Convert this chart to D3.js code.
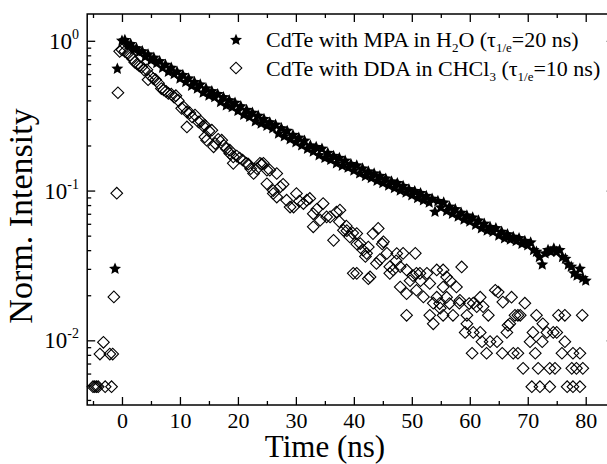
<!DOCTYPE html>
<html>
<head>
<meta charset="utf-8">
<script src="https://cdn.jsdelivr.net/npm/d3@7"></script>
<style>
  body { margin: 0; background: #fff; }
  svg { display: block; font-family: "Liberation Serif", "Times New Roman", serif; }
</style>
</head>
<body>
<div id="chart"></div>
<script>
// CdTe with MPA in H2O  [time ns, normalized intensity]
const mpaPoints = [
  [-1.2,0.030],[-0.8,0.65],
  [0,1.00],[0.5,1.01],[1,0.94],[1.5,0.95],[2,0.88],[2.5,0.89],[3,0.84],[3.5,0.85],[4,0.78],[4.5,0.81],
  [5,0.74],[5.5,0.77],[6,0.71],[6.5,0.73],[7,0.66],[7.5,0.69],[8,0.62],[8.5,0.66],[9,0.60],[9.5,0.62],
  [10,0.56],[10.5,0.59],[11,0.53],[11.5,0.56],[12,0.50],[12.5,0.53],[13,0.48],[13.5,0.51],[14,0.45],[14.5,0.48],
  [15,0.43],[15.5,0.46],[16,0.42],[16.5,0.44],[17,0.39],[17.5,0.42],[18,0.37],[18.5,0.40],[19,0.36],[19.5,0.385],
  [20,0.34],[20.5,0.365],[21,0.32],[21.5,0.345],[22,0.31],[22.5,0.33],[23,0.29],[23.5,0.315],[24,0.28],[24.5,0.30],
  [25,0.27],[25.5,0.285],[26,0.26],[26.5,0.275],[27,0.24],[27.5,0.26],[28,0.23],[28.5,0.25],[29,0.22],[29.5,0.235],
  [30,0.21],[30.5,0.225],[31,0.20],[31.5,0.215],[32,0.19],[32.5,0.20],[33,0.182],[33.5,0.195],[34,0.172],[34.5,0.19],
  [35,0.165],[35.5,0.178],[36,0.16],[36.5,0.17],[37,0.152],[37.5,0.165],[38,0.146],[38.5,0.158],[39,0.142],[39.5,0.15],
  [40,0.136],[40.5,0.147],[41,0.13],[41.5,0.14],[42,0.125],[42.5,0.134],[43,0.121],[43.5,0.13],[44,0.116],[44.5,0.125],
  [45,0.112],[45.5,0.12],[46,0.108],[46.5,0.115],[47,0.104],[47.5,0.112],[48,0.100],[48.5,0.107],[49,0.097],[49.5,0.102],
  [50,0.093],[50.5,0.099],[51,0.089],[51.5,0.096],[52,0.086],[52.5,0.092],[53,0.083],[53.5,0.088],[54,0.072],[54.5,0.085],
  [55,0.077],[55.5,0.083],[56,0.073],[56.5,0.078],[57,0.070],[57.5,0.075],[58,0.067],[58.5,0.071],[59,0.064],[59.5,0.068],
  [60,0.062],[60.5,0.066],[61,0.059],[61.5,0.063],[62,0.056],[62.5,0.060],[63,0.054],[63.5,0.057],[64,0.053],[64.5,0.056],
  [65,0.050],[65.5,0.053],[66,0.048],[66.5,0.051],[67,0.047],[67.5,0.049],[68,0.046],[68.5,0.048],[69,0.044],[69.5,0.046],
  [70,0.043],[70.5,0.045],[71,0.040],[71.5,0.039],[72,0.036],[72.5,0.032],[73,0.038],[73.5,0.040],[74,0.039],[74.5,0.041],
  [75,0.039],[75.5,0.040],[76,0.036],[76.5,0.035],[77,0.032],[77.5,0.031],[78,0.028],[78.5,0.027],[79,0.030],[79.5,0.026],
  [80,0.025]
];

// CdTe with DDA in CHCl3  [time ns, normalized intensity]
const ddaPoints = [
  [-5.0,0.0049],[-4.7,0.0049],[-4.4,0.0049],[-4.1,0.0049],[-3.8,0.0081],[-3.2,0.0097],[-2.9,0.0049],[-2.1,0.0081],
  [-1.8,0.0049],[-1.6,0.0081],[-1.4,0.0195],[-0.9,0.096],[-0.7,0.45],[-0.4,0.85],
  [0,0.87],[0.5,0.85],[1.0,0.82],[1.4,0.80],[1.8,0.76],[2.2,0.72],[2.6,0.70],[3.0,0.68],[3.4,0.67],[3.8,0.64],
  [4.3,0.64],[4.5,0.55],[5.0,0.58],[5.4,0.56],[5.8,0.55],[6.3,0.52],[6.8,0.48],[7.2,0.47],[7.6,0.46],[8.0,0.445],
  [8.5,0.44],[9.0,0.42],[9.3,0.43],[9.7,0.40],[10.3,0.354],[10.7,0.36],[11.2,0.335],[11.2,0.266],[11.7,0.33],[12.1,0.31],
  [12.6,0.319],[13.2,0.287],[13.6,0.29],[14.0,0.27],[14.3,0.273],[14.3,0.228],[14.6,0.217],[15.0,0.25],[15.5,0.253],[15.8,0.196],
  [16.1,0.206],[16.6,0.22],[17.2,0.217],[17.6,0.20],[18.0,0.19],[18.6,0.186],[18.6,0.177],[19.2,0.168],[19.2,0.152],[19.8,0.17],
  [20.3,0.165],[20.8,0.16],[21.5,0.152],[21.8,0.15],[22.2,0.14],[22.7,0.13],[23.3,0.14],[23.8,0.152],[24.1,0.15],[24.4,0.152],
  [25.0,0.137],[25.0,0.111],[25.5,0.137],[26.1,0.10],[26.1,0.0956],[26.7,0.0905],[26.7,0.13],[27.3,0.106],[27.8,0.11],[28.4,0.0862],
  [29.0,0.0776],[29.6,0.0776],[30.1,0.0956],[30.6,0.085],[31.3,0.0819],[31.9,0.0862],[32.4,0.0886],[33.0,0.070],[33.0,0.0573],[33.6,0.075],
  [34.2,0.0634],[34.7,0.0819],[35.3,0.0667],[35.9,0.0667],[36.5,0.0465],[37.0,0.0719],[37.5,0.062],[37.6,0.074],[38.2,0.0543],[38.7,0.058],
  [38.8,0.054],[39.3,0.049],[39.8,0.052],[39.9,0.028],[40.5,0.044],[40.5,0.0516],[40.5,0.028],[41.1,0.0443],[41.6,0.040],[42.0,0.0363],
  [42.2,0.0381],[42.5,0.042],[42.5,0.0258],[42.8,0.0265],[43.3,0.0516],[43.9,0.0326],[44.2,0.0559],[44.5,0.0346],[44.9,0.044],[45.1,0.0455],
  [45.7,0.0381],[46.2,0.031],[46.2,0.028],[46.8,0.0295],[47.3,0.034],[47.4,0.038],[48.0,0.0227],[48.0,0.031],
  [48.5,0.0381],[49.1,0.0295],[49.1,0.0205],[49.1,0.0147],[49.7,0.025],[50.2,0.027],[50.6,0.0381],[50.8,0.028],[50.8,0.0216],[51.4,0.028],
  [51.5,0.025],[52.0,0.0195],[52.6,0.028],[53.1,0.024],[53.1,0.0147],[53.7,0.0177],[53.7,0.0129],[54.3,0.0295],[54.3,0.0194],[54.8,0.0176],
  [54.9,0.0164],[55.4,0.0295],[55.4,0.0227],[55.4,0.0147],[56.0,0.0194],[56.0,0.0265],[56.5,0.0176],[56.6,0.025],[57.1,0.0147],[57.7,0.0227],
  [58.2,0.0177],[58.3,0.0185],[58.6,0.0309],
  [59.2,0.0113],[59.5,0.0129],[59.5,0.0147],[59.9,0.0176],[60.4,0.0082],[60.6,0.0113],[60.6,0.0177],[61.2,0.0168],[61.8,0.0113],[61.8,0.0194],
  [62.1,0.0098],[62.3,0.0168],[62.9,0.0082],[63.2,0.0147],[63.5,0.0098],[64.4,0.0216],[64.7,0.0098],[64.9,0.021],[65.6,0.0082],[65.7,0.018],
  [66.4,0.0113],[66.6,0.0126],[66.9,0.0129],[67.2,0.0194],[67.5,0.0082],[67.8,0.0147],[68.3,0.0082],[68.3,0.0147],[68.7,0.0147],[69.2,0.0065],
  [69.5,0.0177],[70.4,0.0098],[70.7,0.0049],[70.9,0.0113],[71.3,0.0082],[71.5,0.0147],[71.8,0.0065],[72.1,0.0049],[72.5,0.0098],[72.6,0.0129],
  [73.3,0.0113],[73.8,0.0065],[73.8,0.0049],[74.4,0.0113],[74.7,0.0065],[75.0,0.0113],[75.3,0.0147],[75.9,0.0082],[76.4,0.0147],[76.4,0.0098],
  [76.8,0.0049],[77.6,0.0065],[77.8,0.0082],[77.8,0.0049],[78.4,0.0065],[79.0,0.0082],[79.0,0.0049],[79.4,0.0147],[79.5,0.0065]
];

const xMajorTicks = [0, 10, 20, 30, 40, 50, 60, 70, 80];
const xMinorTicks = [-5, 5, 15, 25, 35, 45, 55, 65, 75, 85];
const yMajorTicks = [0.01, 0.1, 1];
const yExponents = ["-2", "-1", "0"];

const width = 607, height = 464;
const plotLeft = 87.2, plotRight = 614.7, plotTop = 14, plotBottom = 405;

const svg = d3.select("#chart").append("svg")
  .attr("width", width)
  .attr("height", height);

svg.append("rect").attr("width", width).attr("height", height).attr("fill", "#fff");

const x = d3.scaleLinear().domain([-6, 85]).range([plotLeft, plotRight]);
const y = d3.scaleLog().domain([0.0037, 1.51]).range([plotBottom, plotTop]);

// minor y ticks 2..9 of each decade
const yMinorTicks = [];
[0.001, 0.01, 0.1].forEach(d => {
  for (let k = 2; k <= 9; k++) {
    const v = +(d * k).toPrecision(3);
    if (v > 0.0037 && v < 1.51) yMinorTicks.push(v);
  }
});

// axes, ticks pointing inward
const axes = svg.append("g");
axes.append("g").attr("transform", `translate(0,${plotBottom})`)
  .call(d3.axisBottom(x).tickValues(xMajorTicks).tickSizeInner(-8).tickSizeOuter(0).tickPadding(7));
axes.append("g").attr("transform", `translate(0,${plotBottom})`)
  .call(d3.axisBottom(x).tickValues(xMinorTicks).tickSizeInner(-4).tickSizeOuter(0).tickFormat(""));
axes.append("g").attr("transform", `translate(0,${plotTop})`)
  .call(d3.axisTop(x).tickValues(xMajorTicks).tickSizeInner(-8).tickSizeOuter(0).tickFormat(""));
axes.append("g").attr("transform", `translate(0,${plotTop})`)
  .call(d3.axisTop(x).tickValues(xMinorTicks).tickSizeInner(-4).tickSizeOuter(0).tickFormat(""));
axes.append("g").attr("transform", `translate(${plotLeft},0)`)
  .call(d3.axisLeft(y).tickValues(yMajorTicks).tickSizeInner(-8).tickSizeOuter(0).tickFormat(""));
axes.append("g").attr("transform", `translate(${plotLeft},0)`)
  .call(d3.axisLeft(y).tickValues(yMinorTicks).tickSizeInner(-4).tickSizeOuter(0).tickFormat(""));
axes.append("g").attr("transform", `translate(${plotRight},0)`)
  .call(d3.axisRight(y).tickValues(yMajorTicks).tickSizeInner(-8).tickSizeOuter(0).tickFormat(""));
axes.append("g").attr("transform", `translate(${plotRight},0)`)
  .call(d3.axisRight(y).tickValues(yMinorTicks).tickSizeInner(-4).tickSizeOuter(0).tickFormat(""));
axes.selectAll(".domain").remove();
axes.selectAll(".tick line").attr("stroke", "#000").attr("stroke-width", 1.3);
axes.selectAll(".tick text")
  .attr("font-family", "Liberation Serif, serif")
  .attr("font-size", 22)
  .attr("fill", "#000");

svg.append("rect")
  .attr("x", plotLeft).attr("y", plotTop)
  .attr("width", plotRight - plotLeft).attr("height", plotBottom - plotTop)
  .attr("fill", "none").attr("stroke", "#000").attr("stroke-width", 1.5);

// y tick labels 10^n
const yLab = svg.append("g").attr("font-size", 23).attr("text-anchor", "end");
yMajorTicks.forEach((v, i) => {
  const t = yLab.append("text").attr("x", 79).attr("y", y(v) + 8);
  t.append("tspan").text("10");
  t.append("tspan").attr("font-size", 14).attr("dy", -10).text(yExponents[i]);
});

// symbols: fat five-point star and open diamond
const fatStar = {
  draw(ctx, size) {
    const R = Math.sqrt(size) / 1.9, r = R * 0.46;
    for (let i = 0; i < 10; i++) {
      const a = -Math.PI / 2 + i * Math.PI / 5;
      const rad = i % 2 ? r : R;
      if (i === 0) ctx.moveTo(rad * Math.cos(a), rad * Math.sin(a));
      else ctx.lineTo(rad * Math.cos(a), rad * Math.sin(a));
    }
    ctx.closePath();
  }
};
const star = d3.symbol().type(fatStar).size(144);
const diamond = d3.symbol().type(d3.symbolSquare).size(68);

const plot = svg.append("g");
plot.selectAll(".dda").data(ddaPoints).join("path")
  .attr("class", "dda")
  .attr("d", diamond)
  .attr("transform", d => `translate(${x(d[0])},${y(d[1])}) rotate(45)`)
  .attr("fill", "none").attr("stroke", "#000").attr("stroke-width", 1.1);
plot.selectAll(".mpa").data(mpaPoints).join("path")
  .attr("class", "mpa")
  .attr("d", star)
  .attr("transform", d => `translate(${x(d[0])},${y(d[1])})`)
  .attr("fill", "#000");

// axis titles
svg.append("text")
  .attr("x", 325).attr("y", 457)
  .attr("text-anchor", "middle").attr("font-size", 31)
  .text("Time (ns)");
svg.append("text")
  .attr("transform", "translate(32,216) rotate(-90)")
  .attr("text-anchor", "middle").attr("font-size", 34)
  .text("Norm. Intensity");

// legend
const legend = svg.append("g").attr("font-size", 22);
legend.append("path").attr("d", star).attr("transform", "translate(236,40)").attr("fill", "#000");
legend.append("path").attr("d", diamond).attr("transform", "translate(236,68) rotate(45)")
  .attr("fill", "none").attr("stroke", "#000").attr("stroke-width", 1.1);

const t1 = legend.append("text").attr("x", 266).attr("y", 47);
t1.append("tspan").text("CdTe with MPA in H");
t1.append("tspan").attr("font-size", 13).attr("dy", 5).text("2");
t1.append("tspan").attr("dy", -5).text("O (\u03c4");
t1.append("tspan").attr("font-size", 13).attr("dy", 5).text("1/e");
t1.append("tspan").attr("dy", -5).text("=20 ns)");

const t2 = legend.append("text").attr("x", 266).attr("y", 76);
t2.append("tspan").text("CdTe with DDA in CHCl");
t2.append("tspan").attr("font-size", 13).attr("dy", 5).text("3");
t2.append("tspan").attr("dy", -5).text(" (\u03c4");
t2.append("tspan").attr("font-size", 13).attr("dy", 5).text("1/e");
t2.append("tspan").attr("dy", -5).text("=10 ns)");
</script>
</body>
</html>
